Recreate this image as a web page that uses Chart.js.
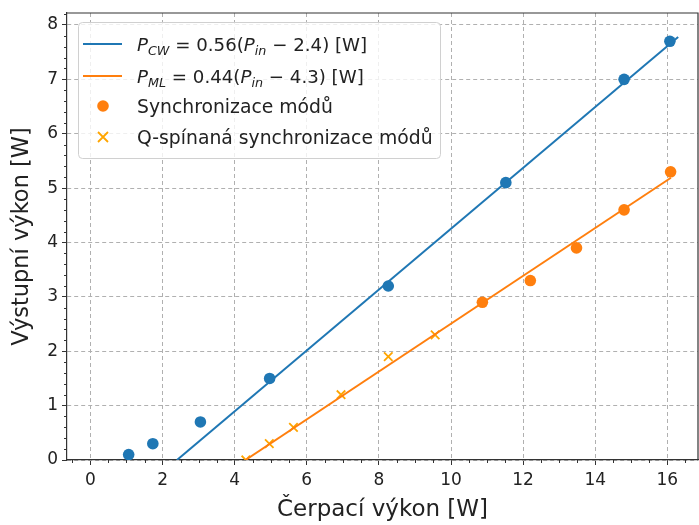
<!DOCTYPE html>
<html>
<head>
<meta charset="utf-8">
<script src="https://cdn.jsdelivr.net/npm/chart.js@4"></script>
<style>
  body { margin: 0; background: #fff; }
  #wrap { width: 699px; height: 525px; }
</style>
</head>
<body>
<div id="wrap"><canvas id="chart" width="699" height="525"></canvas></div>
<script>
// CW fit line and points (blue)
const cwPointsX = [1.06, 1.73, 3.05, 4.97, 8.26, 11.52, 14.8, 16.07];
const cwPointsY = [0.1, 0.3, 0.7, 1.5, 3.2, 5.1, 7.0, 7.7];
const cwLineX = [2.4, 16.3];
const cwLineY = [0, 7.78];

// mode-locked (orange)
const mlPointsX = [10.87, 12.2, 13.48, 14.8, 16.09];
const mlPointsY = [2.9, 3.3, 3.9, 4.6, 5.3];
const qmlPointsX = [4.31, 4.96, 5.63, 6.95, 8.26, 9.56];
const qmlPointsY = [0, 0.3, 0.6, 1.2, 1.9, 2.3];
const mlLineX = [4.3, 16.1];
const mlLineY = [0, 5.19];

const xTicks = [0, 2, 4, 6, 8, 10, 12, 14, 16];
const yTicks = [0, 1, 2, 3, 4, 5, 6, 7, 8];

const BLUE = "#1f77b4";
const ORANGE = "#ff7f0e";
const GOLD = "#ffa500";
const FONT = "'DejaVu Sans', sans-serif";

const pts = (xs, ys) => xs.map((x, i) => ({ x, y: ys[i] }));

// minor ticks, spines + custom legend with subscripts
const extras = {
  id: "extras",
  afterDraw(chart) {
    const ctx = chart.ctx;
    const xs = chart.scales.x, ys = chart.scales.y;
    const a = chart.chartArea;
    ctx.save();
    ctx.strokeStyle = "#333";
    ctx.lineWidth = 1;
    ctx.beginPath();
    for (let v = -0.5; v <= 16.8; v += 0.5) {
      if (Math.abs(v % 2) < 1e-6) continue;
      const px = Math.round(xs.getPixelForValue(v)) + 0.5;
      ctx.moveTo(px, a.bottom); ctx.lineTo(px, a.bottom + 3);
    }
    for (let i = 1; i <= 41; i++) {
      if (i % 5 === 0) continue;
      const py = Math.round(ys.getPixelForValue(i * 0.2)) + 0.5;
      ctx.moveTo(a.left, py); ctx.lineTo(a.left - 3, py);
    }
    ctx.stroke();
    ctx.lineWidth = 1.2;
    ctx.beginPath();
    ctx.moveTo(a.left, a.top); ctx.lineTo(a.right, a.top); ctx.lineTo(a.right, a.bottom);
    ctx.stroke();

    // legend box
    const bx = 78, by = 22, bw = 362, bh = 136;
    ctx.fillStyle = "rgba(255,255,255,0.8)";
    ctx.strokeStyle = "#d0d0d0";
    ctx.lineWidth = 1;
    ctx.beginPath();
    ctx.roundRect(bx + 0.5, by + 0.5, bw, bh, 4);
    ctx.fill(); ctx.stroke();

    const rowY = [44, 76, 106, 137];
    const tx = 137;
    ctx.lineWidth = 2;
    ctx.strokeStyle = BLUE;
    ctx.beginPath(); ctx.moveTo(83, rowY[0]); ctx.lineTo(122, rowY[0]); ctx.stroke();
    ctx.strokeStyle = ORANGE;
    ctx.beginPath(); ctx.moveTo(83, rowY[1]); ctx.lineTo(122, rowY[1]); ctx.stroke();
    ctx.fillStyle = ORANGE;
    ctx.beginPath(); ctx.arc(103, rowY[2], 5.8, 0, Math.PI * 2); ctx.fill();
    ctx.strokeStyle = GOLD; ctx.lineWidth = 1.8;
    ctx.beginPath();
    ctx.moveTo(98, rowY[3] - 5); ctx.lineTo(108, rowY[3] + 5);
    ctx.moveTo(98, rowY[3] + 5); ctx.lineTo(108, rowY[3] - 5);
    ctx.stroke();

    ctx.fillStyle = "#222";
    ctx.textBaseline = "alphabetic";
    const size = 18.2;
    const drawMath = (parts, x, y) => {
      for (const [txt, style] of parts) {
        let f = size, dy = 0, it = "";
        if (style === "i") it = "italic ";
        if (style === "s") { it = "italic "; f = size * 0.7; dy = 4; }
        ctx.font = `${it}${f}px ${FONT}`;
        ctx.fillText(txt, x, y + dy);
        x += ctx.measureText(txt).width;
      }
    };
    drawMath([["P", "i"], ["CW", "s"], [" = 0.56(", ""], ["P", "i"], ["in", "s"], [" \u2212 2.4) [W]", ""]], tx, rowY[0] + 7);
    drawMath([["P", "i"], ["ML", "s"], [" = 0.44(", ""], ["P", "i"], ["in", "s"], [" \u2212 4.3) [W]", ""]], tx, rowY[1] + 7);
    ctx.font = `18.8px ${FONT}`;
    ctx.fillText("Synchronizace módů", tx, rowY[2] + 7);
    ctx.fillText("Q-spínaná synchronizace módů", tx, rowY[3] + 7);
    ctx.restore();
  }
};

new Chart(document.getElementById("chart").getContext("2d"), {
  type: "scatter",
  data: {
    datasets: [
      { data: pts(cwLineX, cwLineY), showLine: true, borderColor: BLUE, borderWidth: 2, pointRadius: 0 },
      { data: pts(mlLineX, mlLineY), showLine: true, borderColor: ORANGE, borderWidth: 2, pointRadius: 0 },
      { data: pts(cwPointsX, cwPointsY), backgroundColor: BLUE, borderWidth: 0, pointRadius: 5.8 },
      { data: pts(mlPointsX, mlPointsY), backgroundColor: ORANGE, borderWidth: 0, pointRadius: 5.8 },
      { data: pts(qmlPointsX, qmlPointsY), pointStyle: "crossRot", borderColor: GOLD, borderWidth: 1.8, pointRadius: 6 }
    ]
  },
  options: {
    responsive: false,
    animation: false,
    layout: { autoPadding: false, padding: { top: 13, right: 1, left: 0, bottom: 0 } },
    plugins: { legend: { display: false }, tooltip: { enabled: false } },
    scales: {
      x: {
        type: "linear",
        min: -0.65, max: 16.85,
        afterBuildTicks: s => { s.ticks = xTicks.map(v => ({ value: v })); },
        afterFit: s => { s.height = 65; s.paddingLeft = 0; s.paddingRight = 0; },
        grid: { color: "#b0b0b0", tickBorderDash: [], tickColor: "#333", tickLength: 5 },
        border: { color: "#333", width: 1.2, dash: [4, 3] },
        ticks: { color: "#222", font: { family: FONT, size: 17 }, padding: 5, maxRotation: 0 },
        title: { display: true, text: "Čerpací výkon [W]", color: "#222", font: { family: FONT, size: 23 }, padding: { top: 2, bottom: 1 } }
      },
      y: {
        type: "linear",
        min: 0, max: 8.22,
        afterBuildTicks: s => { s.ticks = yTicks.map(v => ({ value: v })); },
        afterFit: s => { s.width = 67; s.paddingTop = 0; s.paddingBottom = 0; },
        grid: { color: "#b0b0b0", tickBorderDash: [], tickColor: "#333", tickLength: 5 },
        border: { color: "#333", width: 1.2, dash: [4, 3] },
        ticks: { color: "#222", font: { family: FONT, size: 17 }, padding: 4 },
        title: { display: true, text: "Výstupní výkon [W]", color: "#222", font: { family: FONT, size: 22.5 }, padding: { top: 9, bottom: 0 } }
      }
    }
  },
  plugins: [extras]
});
</script>
</body>
</html>
